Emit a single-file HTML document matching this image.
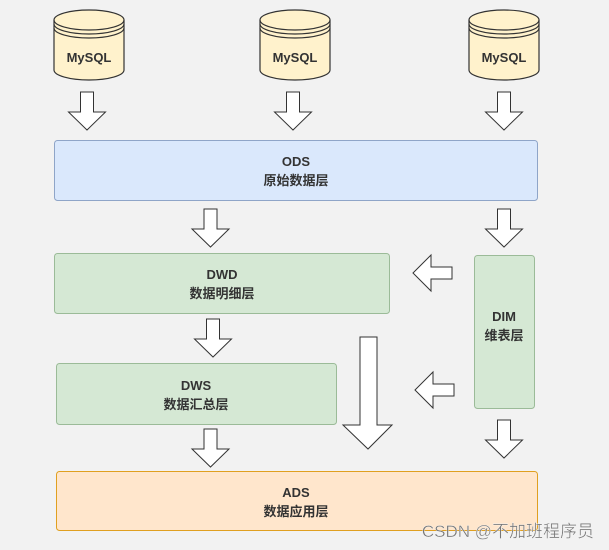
<!DOCTYPE html>
<html><head><meta charset="utf-8"><style>
html,body{margin:0;padding:0;background:#f2f2f2;}
svg{display:block;}
text{font-family:"Liberation Sans","Noto Sans CJK SC",sans-serif;font-weight:bold;fill:#333;font-size:13px;text-anchor:middle;}
</style></head><body>
<svg width="609" height="550" viewBox="0 0 609 550" xmlns="http://www.w3.org/2000/svg">
<rect width="609" height="550" fill="#f2f2f2"/>
<defs>
<g id="cyl">
<path d="M0,10 A35,10 0 0 1 70,10 L70,60 A35,10 0 0 1 0,60 Z" fill="#fff2cc" stroke="#333" stroke-width="1.2"/>
<path d="M0,10 A35,10 0 0 0 70,10" fill="none" stroke="#333" stroke-width="1.2"/>
<path d="M0,14 A35,10 0 0 0 70,14" fill="none" stroke="#333" stroke-width="1.2"/>
<path d="M0,18 A35,10 0 0 0 70,18" fill="none" stroke="#333" stroke-width="1.2"/>
</g>
<path id="da" d="M-6.5,0 L6.5,0 L6.5,20 L18.5,20 L0,38 L-18.5,20 L-6.5,20 Z" fill="#fff" stroke="#333" stroke-width="1"/>
<path id="la" d="M0,18 L18,0 L18,12 L39,12 L39,24 L18,24 L18,36 Z" fill="#fff" stroke="#333" stroke-width="1"/>
</defs>
<use href="#cyl" x="54" y="10"/><text x="89" y="62">MySQL</text>
<use href="#cyl" x="260" y="10"/><text x="295" y="62">MySQL</text>
<use href="#cyl" x="469" y="10"/><text x="504" y="62">MySQL</text>
<use href="#da" x="87" y="92"/>
<use href="#da" x="293" y="92"/>
<use href="#da" x="504" y="92"/>
<rect x="54.5" y="140.5" width="483" height="60" rx="3" fill="#dae8fc" stroke="#8fa5c8"/>
<text x="296" y="166">ODS</text><text x="296" y="185">原始数据层</text>
<use href="#da" x="210.5" y="209"/>
<use href="#da" x="504" y="209"/>
<rect x="54.5" y="253.5" width="335" height="60" rx="3" fill="#d5e8d4" stroke="#9bbb98"/>
<text x="222" y="279">DWD</text><text x="222" y="298">数据明细层</text>
<rect x="474.5" y="255.5" width="60" height="153" rx="3" fill="#d5e8d4" stroke="#9bbb98"/>
<text x="504" y="321">DIM</text><text x="504" y="340">维表层</text>
<use href="#la" x="413" y="255"/>
<use href="#la" x="415" y="372"/>
<use href="#da" x="213" y="319"/>
<rect x="56.5" y="363.5" width="280" height="61" rx="3" fill="#d5e8d4" stroke="#9bbb98"/>
<text x="196" y="390">DWS</text><text x="196" y="409">数据汇总层</text>
<path d="M360,337 L377,337 L377,425 L392,425 L368,449 L343,425 L360,425 Z" fill="#fff" stroke="#333" stroke-width="1"/>
<use href="#da" x="210.5" y="429"/>
<use href="#da" x="504" y="420"/>
<rect x="56.5" y="471.5" width="481" height="59" rx="3" fill="#ffe6cc" stroke="#e0a020"/>
<text x="296" y="497">ADS</text><text x="296" y="516">数据应用层</text>
<text x="594" y="537" style="font-weight:normal;font-size:17px;fill:#777;text-anchor:end;stroke:#fff;stroke-width:0.3">CSDN @不加班程序员</text>
</svg>
</body></html>
